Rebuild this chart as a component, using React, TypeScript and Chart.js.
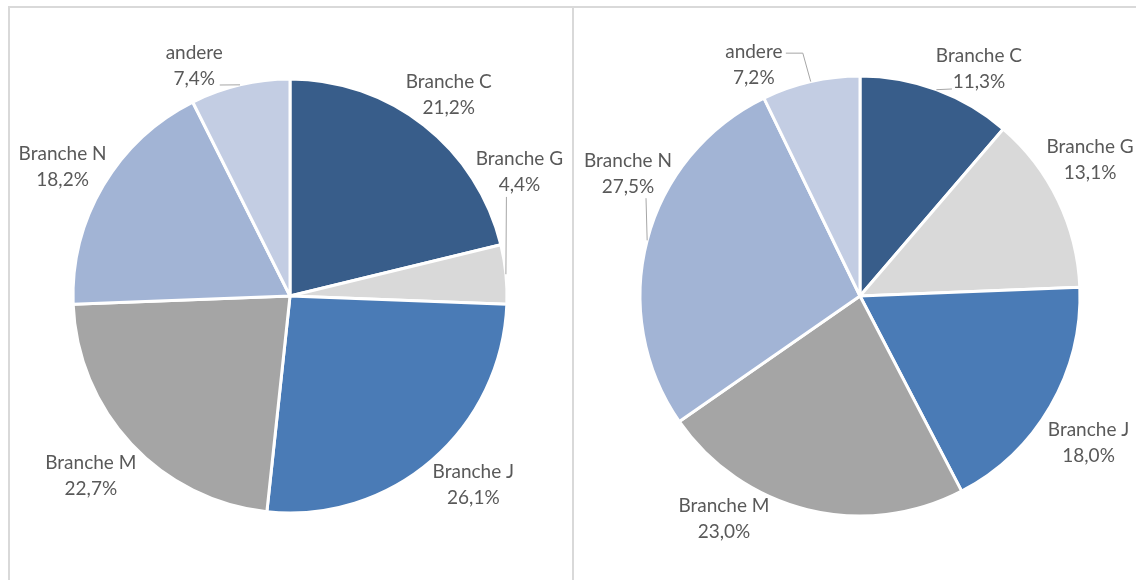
import React, { useEffect, useRef } from "react";
import { Chart, registerables } from "chart.js";

Chart.register(...registerables);

// ---------- data ----------
const categories = ["Branche C", "Branche G", "Branche J", "Branche M", "Branche N", "andere"];
const sharesLeft = [21.2, 4.4, 26.1, 22.7, 18.2, 7.4];
const sharesRight = [11.3, 13.1, 18.0, 23.0, 27.5, 7.2];

// ---------- styling / layout ----------
const sliceColors = ["#385D8A", "#D9D9D9", "#4A7BB6", "#A5A5A5", "#A2B4D5", "#C3CDE3"];
const W = 1136;
const H = 580;

// label centre: [angle in degrees clockwise from 12 o'clock, distance as multiple of radius]
const labelLayoutLeft: [number, number][] = [
  [38.3, 1.18], [61.5, 1.203], [135.8, 1.212], [227.9, 1.237], [299.5, 1.204], [337.4, 1.148],
];
const labelLayoutRight: [number, number][] = [
  [27.6, 1.167], [59.4, 1.215], [122.8, 1.236], [211.4, 1.187], [297.7, 1.191], [335.3, 1.155],
];
// leader line bends/ends, as pixel offsets from the label centre
const leadersLeft: Record<number, [number, number][]> = {
  1: [[-13, 25.5]],
  5: [[25.5, 19]],
};
const leadersRight: Record<number, [number, number][]> = {
  0: [[-27, 20.5]],
  4: [[18, 24]],
  5: [[49, -12], [32, -12]],
};

const fmt = (v: number) => v.toFixed(1).replace(".", ",") + "%";

const pieLabelPlugin = {
  id: "pieLabels",
  afterDatasetsDraw(chart: any, _args: any, opts: any) {
    const meta = chart.getDatasetMeta(0);
    const ds = chart.data.datasets[0];
    const ctx = chart.ctx as CanvasRenderingContext2D;
    ctx.save();
    meta.data.forEach((arc: any, i: number) => {
      const { x, y, startAngle, endAngle, outerRadius } = arc.getProps(
        ["x", "y", "startAngle", "endAngle", "outerRadius"],
        true
      );
      const [deg, dist] = opts.layout[i];
      const a = (deg * Math.PI) / 180;
      const lx = x + Math.sin(a) * outerRadius * dist;
      const ly = y - Math.cos(a) * outerRadius * dist;
      const leader = opts.leaders[i];
      if (leader) {
        const mid = (startAngle + endAngle) / 2;
        ctx.beginPath();
        ctx.moveTo(x + Math.cos(mid) * outerRadius, y + Math.sin(mid) * outerRadius);
        leader.forEach(([dx, dy]: [number, number]) => ctx.lineTo(lx + dx, ly + dy));
        ctx.strokeStyle = "#A6A6A6";
        ctx.lineWidth = 1;
        ctx.stroke();
      }
      ctx.fillStyle = "#595959";
      ctx.font = opts.font;
      ctx.textAlign = "center";
      ctx.textBaseline = "middle";
      ctx.fillText(chart.data.labels[i], lx, ly - opts.lineGap / 2);
      ctx.fillText(fmt(ds.data[i]), lx, ly + opts.lineGap / 2);
    });
    ctx.restore();
  },
};

function makePie(
  canvas: HTMLCanvasElement,
  values: number[],
  padding: { left: number; right: number; top: number; bottom: number },
  layout: [number, number][],
  leaders: Record<number, [number, number][]>
) {
  return new Chart(canvas, {
    type: "pie",
    data: {
      labels: categories,
      datasets: [
        {
          data: values,
          backgroundColor: sliceColors,
          borderColor: "#FFFFFF",
          borderWidth: 3,
        },
      ],
    },
    options: {
      animation: false,
      responsive: false,
      events: [],
      layout: { padding },
      plugins: {
        legend: { display: false },
        tooltip: { enabled: false },
        pieLabels: {
          layout,
          leaders,
          font: "19px Lato",
          lineGap: 26,
        },
      } as any,
    },
    plugins: [pieLabelPlugin as any],
  });
}

export default function App() {
  const leftRef = useRef<HTMLCanvasElement>(null);
  const rightRef = useRef<HTMLCanvasElement>(null);

  useEffect(() => {
    // left pie: centre (290, 296), radius 217 ; right pie: centre (860, 296), radius 220
    const sizeL = 2 * 217 + 3;
    const sizeR = 2 * 220 + 3;
    const c1 = makePie(
      leftRef.current!,
      sharesLeft,
      { left: 290 - sizeL / 2, top: 296 - sizeL / 2, right: W - (290 + sizeL / 2), bottom: H - (296 + sizeL / 2) },
      labelLayoutLeft,
      leadersLeft
    );
    const c2 = makePie(
      rightRef.current!,
      sharesRight,
      { left: 860 - sizeR / 2, top: 296 - sizeR / 2, right: W - (860 + sizeR / 2), bottom: H - (296 + sizeR / 2) },
      labelLayoutRight,
      leadersRight
    );
    return () => {
      c1.destroy();
      c2.destroy();
    };
  }, []);

  const line = "#D9D9D9";
  return (
    <div
      style={{
        position: "fixed",
        left: 0,
        top: 0,
        width: W,
        height: H,
        background: "#FFFFFF",
        overflow: "hidden",
      }}
    >
      {/* chart frames */}
      <div style={{ position: "absolute", left: 8, top: 6, width: W, height: 2, background: line }} />
      <div style={{ position: "absolute", left: 8, top: 6, width: 2, height: H, background: line }} />
      <div style={{ position: "absolute", left: 572, top: 6, width: 2, height: H, background: line }} />
      <canvas
        ref={leftRef}
        width={W}
        height={H}
        style={{ position: "absolute", left: 0, top: 0, width: W, height: H }}
      />
      <canvas
        ref={rightRef}
        width={W}
        height={H}
        style={{ position: "absolute", left: 0, top: 0, width: W, height: H }}
      />
    </div>
  );
}
